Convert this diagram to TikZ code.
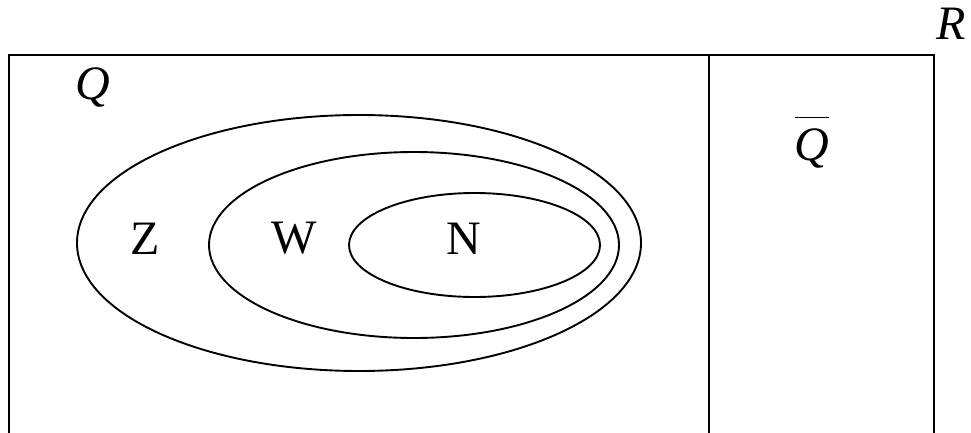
\documentclass[tikz,border=0pt]{standalone}
\usepackage{fontspec}
\setmainfont{Liberation Serif}
\begin{document}
\begin{tikzpicture}[x=1pt,y=-1pt,
  frame/.style={draw=black,line width=2.2pt},
  setline/.style={draw=black,line width=1.9pt},
  lab/.style={font=\fontsize{48}{52}\selectfont,inner sep=0pt}]
\useasboundingbox (0,0) rectangle (971,433);
\draw[frame] (9,436) -- (9,55) -- (934,55) -- (934,436);
\draw[frame] (709,55) -- (709,436);
\draw[setline] (359,243) ellipse [x radius=282, y radius=128];
\draw[setline] (414,245) ellipse [x radius=205, y radius=93];
\draw[setline] (474.5,245) ellipse [x radius=125.5, y radius=52];
\node[lab] (z) at (145,238.5) {Z};
\node[lab] (w) at (294,238.5) {W};
\node[lab] (n) at (464,238.5) {N};
\node[lab,anchor=base] (q) at (93,100) {\textit{Q}};
\node[lab,anchor=base] (qbar) at (812,160) {$\overline{\rule{0pt}{0.86em}\mbox{\textit{Q}}}$};
\node[lab,anchor=base] (r) at (951,40) {\textit{R}};
\end{tikzpicture}
\end{document}
